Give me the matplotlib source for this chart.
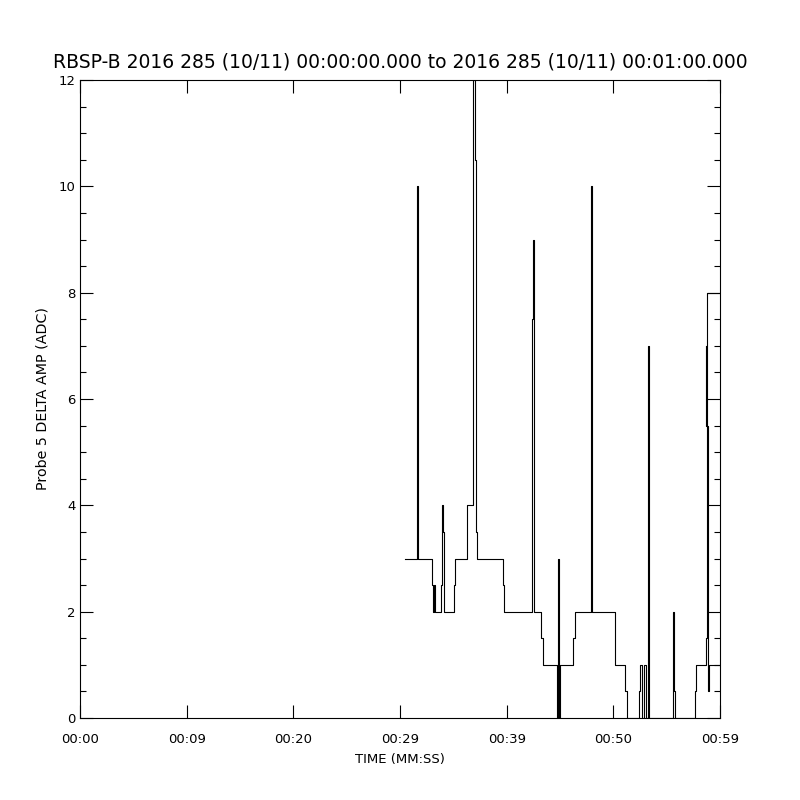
import matplotlib
matplotlib.use('Agg')
import matplotlib.pyplot as plt
import numpy as np

# probe 5 delta amp, step data (seconds after 00:00:00, ADC value)
t_main = [30.50, 31.55, 31.61, 31.69, 33.03, 33.14, 33.22, 33.30, 33.84, 33.97,
          34.03, 34.08, 34.15, 35.09, 35.18, 36.25, 36.31, 36.82, 37.05, 37.13,
          37.22, 39.68, 39.78, 42.40, 42.45, 42.53, 42.59, 43.25, 43.43, 44.69,
          44.75, 44.81, 44.88, 44.97, 46.25, 46.43, 47.88, 47.93, 47.98, 48.03,
          50.13, 51.12, 51.25, 52.41, 52.53, 52.72, 52.88, 53.03, 53.25, 53.37,
          55.58, 55.62, 55.67, 55.75, 57.68, 57.75, 58.69, 58.75, 60.00]
v_main = [3, 8.5, 10, 3, 2.5, 2, 2.5, 2, 2.5, 4,
          3.5, 2.5, 2, 2.5, 3, 3.5, 4, 12, 10.5, 3.5,
          3, 2.5, 2, 7.5, 9, 7, 2, 1.5, 1, 0.5,
          0, 3, 0, 1, 1.5, 2, 8, 10, 8, 2,
          1, 0.5, 0, 0.5, 1, 0, 1, 0, 7, 0,
          1, 2, 0.5, 0, 0.5, 1, 1.5, 8, 8]

# overlapping last packet
t_tail = [58.69, 58.72, 58.90, 58.95, 60.00]
v_tail = [7, 5.5, 0.5, 1, 1]

xticks = [0, 10, 20, 30, 40, 50, 60]
xlabels = ['00:00', '00:09', '00:20', '00:29', '00:39', '00:50', '00:59']
yticks = [0, 2, 4, 6, 8, 10, 12]

fig = plt.figure(figsize=(8, 8), dpi=100)
ax = fig.add_axes([0.1, 0.1025, 0.8, 0.7975])

ax.plot(t_main, v_main, 'k-', drawstyle='steps-post', lw=0.8)
ax.plot(t_tail, v_tail, 'k-', drawstyle='steps-post', lw=0.8)

ax.set(xlim=(0, 60), ylim=(0, 12))
ax.set_xticks(xticks)
ax.set_xticklabels(xlabels)
ax.set_yticks(yticks)
ax.set_yticks(np.arange(0, 12.01, 0.5), minor=True)

ax.tick_params(which='both', direction='in', top=True, right=True,
               labelsize=9.5, width=0.8, colors='black')
ax.tick_params(which='major', length=9.5)
ax.tick_params(which='minor', length=4.5)
ax.tick_params(axis='x', which='major', pad=11)
ax.tick_params(axis='y', which='major', pad=3)
for s in ax.spines.values():
    s.set_linewidth(0.8)

ax.set_title('RBSP-B 2016 285 (10/11) 00:00:00.000 to 2016 285 (10/11) 00:01:00.000',
             fontsize=13.5, pad=9)
ax.set_xlabel('TIME (MM:SS)', fontsize=9.5, labelpad=5)
ax.set_ylabel('Probe 5 DELTA AMP (ADC)', fontsize=10.3, labelpad=7)

fig.savefig('out.png', dpi=100)
